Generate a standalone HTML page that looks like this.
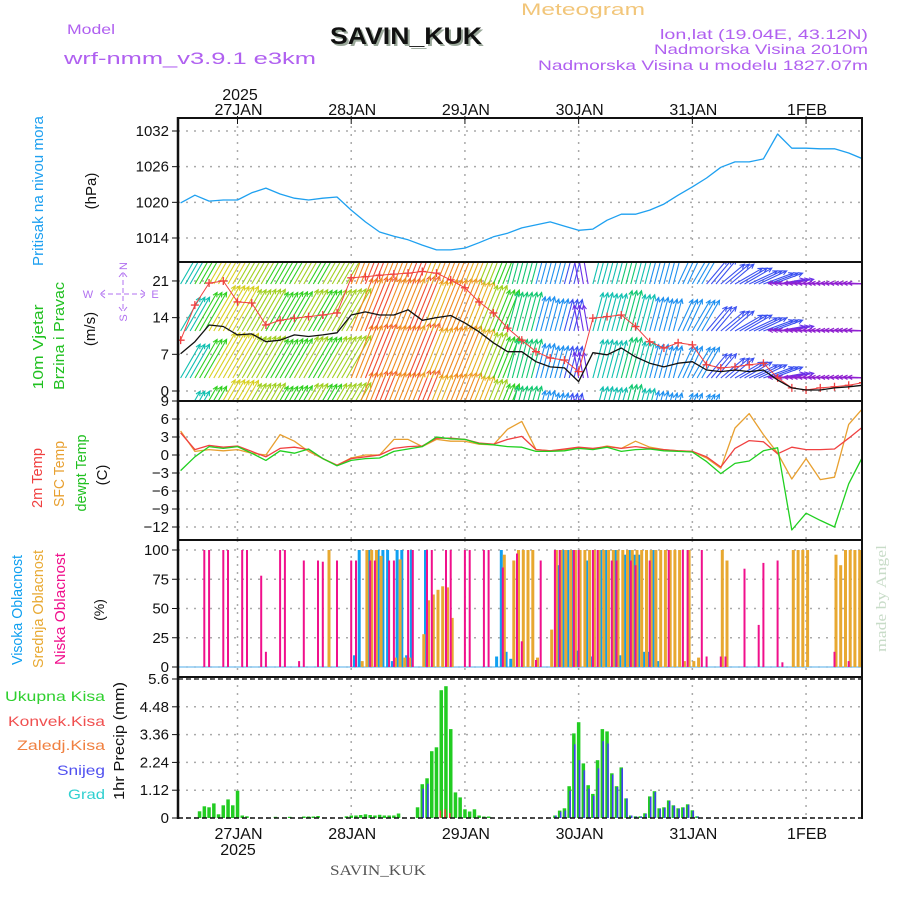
<!DOCTYPE html>
<html><head><meta charset="utf-8"><title>Meteogram SAVIN_KUK</title>
<style>
html,body{margin:0;padding:0;background:#fff;}
svg{display:block;font-family:"Liberation Sans",sans-serif;}
</style></head>
<body>
<svg id="chart" xmlns="http://www.w3.org/2000/svg" width="900" height="900" viewBox="0 0 900 900">
<defs>
<clipPath id="cpP"><rect x="179" y="119" width="682" height="142"/></clipPath>
<clipPath id="cpW"><rect x="179" y="263" width="682" height="137"/></clipPath>
<clipPath id="cpT"><rect x="179" y="402" width="682" height="137"/></clipPath>
<clipPath id="cpC"><rect x="179" y="541" width="682" height="135"/></clipPath>
<clipPath id="cpR"><rect x="179" y="678" width="682" height="140"/></clipPath>
</defs>
<!-- header -->
<text x="521" y="15" font-size="17" fill="#f2c67a" textLength="124" lengthAdjust="spacingAndGlyphs">Meteogram</text>
<text x="67" y="34" font-size="14" fill="#b060f0" textLength="48" lengthAdjust="spacingAndGlyphs">Model</text>
<text x="64" y="64" font-size="17" fill="#b060f0" textLength="252" lengthAdjust="spacingAndGlyphs">wrf-nmm_v3.9.1 e3km</text>
<text x="332" y="46" font-size="24" font-weight="bold" fill="#9aa89a" textLength="152" lengthAdjust="spacingAndGlyphs">SAVIN_KUK</text>
<text x="330" y="44" font-size="24" font-weight="bold" fill="#111" textLength="152" lengthAdjust="spacingAndGlyphs">SAVIN_KUK</text>
<text x="868" y="39" font-size="14" fill="#b060f0" text-anchor="end" textLength="208" lengthAdjust="spacingAndGlyphs">lon,lat (19.04E, 43.12N)</text>
<text x="868" y="54" font-size="14" fill="#b060f0" text-anchor="end" textLength="214" lengthAdjust="spacingAndGlyphs">Nadmorska Visina 2010m</text>
<text x="868" y="70" font-size="14" fill="#b060f0" text-anchor="end" textLength="330" lengthAdjust="spacingAndGlyphs">Nadmorska Visina u modelu 1827.07m</text>
<text x="240" y="100" font-size="16" fill="#111" text-anchor="middle">2025</text>
<!-- left labels -->
<text transform="translate(43,191) rotate(-90)" font-size="15" fill="#1ea0f0" text-anchor="middle" textLength="150" lengthAdjust="spacingAndGlyphs">Pritisak na nivou mora</text>
<text transform="translate(96,191) rotate(-90)" font-size="15" fill="#111" text-anchor="middle">(hPa)</text>
<text transform="translate(43,347) rotate(-90)" font-size="15" fill="#20c020" text-anchor="middle" textLength="85" lengthAdjust="spacingAndGlyphs">10m Vjetar</text>
<text transform="translate(64,336) rotate(-90)" font-size="15" fill="#20c020" text-anchor="middle" textLength="108" lengthAdjust="spacingAndGlyphs">Brzina i Pravac</text>
<text transform="translate(95,329) rotate(-90)" font-size="15" fill="#111" text-anchor="middle">(m/s)</text>
<g fill="#b070f0" stroke="none" font-size="11">
<text x="88" y="298" text-anchor="middle">W</text>
<text x="155" y="298" text-anchor="middle">E</text>
<text transform="translate(127,266) rotate(-90)" text-anchor="middle">N</text>
<text transform="translate(127,318) rotate(-90)" text-anchor="middle">S</text>
<path d="M100 294 L146 294 M123 272 L123 312 M105 290 L100 294 L105 298 M141 290 L146 294 L141 298 M119 277 L123 272 L127 277 M119 307 L123 312 L127 307" stroke="#b070f0" stroke-width="1" fill="none" stroke-dasharray="5,3"/>
</g>
<text transform="translate(42,478) rotate(-90)" font-size="15" fill="#f04040" text-anchor="middle" textLength="60" lengthAdjust="spacingAndGlyphs">2m Temp</text>
<text transform="translate(64,474) rotate(-90)" font-size="15" fill="#e8a030" text-anchor="middle" textLength="66" lengthAdjust="spacingAndGlyphs">SFC Temp</text>
<text transform="translate(86,473) rotate(-90)" font-size="15" fill="#20c020" text-anchor="middle" textLength="77" lengthAdjust="spacingAndGlyphs">dewpt Temp</text>
<text transform="translate(107,475) rotate(-90)" font-size="15" fill="#111" text-anchor="middle">(C)</text>
<text transform="translate(22,610) rotate(-90)" font-size="15" fill="#10a0f0" text-anchor="middle" textLength="110" lengthAdjust="spacingAndGlyphs">Visoka Oblacnost</text>
<text transform="translate(43,609) rotate(-90)" font-size="15" fill="#e8a830" text-anchor="middle" textLength="118" lengthAdjust="spacingAndGlyphs">Srednja Oblacnost</text>
<text transform="translate(65,609) rotate(-90)" font-size="15" fill="#f0108c" text-anchor="middle" textLength="112" lengthAdjust="spacingAndGlyphs">Niska Oblacnost</text>
<text transform="translate(104,610) rotate(-90)" font-size="14" fill="#111" text-anchor="middle">(%)</text>
<text x="105" y="701" font-size="14" fill="#30d030" text-anchor="end" textLength="100" lengthAdjust="spacingAndGlyphs">Ukupna  Kisa</text>
<text x="105" y="726" font-size="14" fill="#f05050" text-anchor="end" textLength="97" lengthAdjust="spacingAndGlyphs">Konvek.Kisa</text>
<text x="105" y="750" font-size="14" fill="#f08040" text-anchor="end" textLength="88" lengthAdjust="spacingAndGlyphs">Zaledj.Kisa</text>
<text x="105" y="775" font-size="14" fill="#5050f0" text-anchor="end" textLength="48" lengthAdjust="spacingAndGlyphs">Snijeg</text>
<text x="105" y="799" font-size="14" fill="#30d0d0" text-anchor="end" textLength="37" lengthAdjust="spacingAndGlyphs">Grad</text>
<text transform="translate(124,741) rotate(-90)" font-size="15" fill="#111" text-anchor="middle" textLength="118" lengthAdjust="spacingAndGlyphs">1hr Precip (mm)</text>
<!-- footer -->
<text x="238" y="855" font-size="16" fill="#111" text-anchor="middle">2025</text>
<text x="330" y="875" font-size="15" fill="#555" font-family="Liberation Serif, serif" textLength="96" lengthAdjust="spacingAndGlyphs">SAVIN_KUK</text>
<text transform="translate(886,652) rotate(-90)" font-size="15" fill="#c8dcc8" font-family="Liberation Serif, serif" textLength="107" lengthAdjust="spacingAndGlyphs">made by Angel</text>
<g id="plot"></g>
</svg>
<script>
// ---- data (hours relative to 27 JAN 00 UTC) ----
const hours3=[-12,-9,-6,-3,0,3,6,9,12,15,18,21,24,27,30,33,36,39,42,45,48,51,54,57,60,63,66,69,72,75,78,81,84,87,90,93,96,99,102,105,108,111,114,117,120,123,126,129,132];
const pressure=[1019.9,1021.2,1020.2,1020.4,1020.4,1021.6,1022.4,1021.4,1020.7,1020.4,1020.7,1020.9,1018.7,1016.7,1015,1014.3,1013.7,1012.8,1012,1012,1012.3,1013.2,1014.2,1014.8,1015.7,1016.2,1016.7,1016,1015.3,1015.5,1017,1018,1018,1018.7,1019.7,1021.2,1022.6,1024.1,1025.9,1026.8,1026.8,1027.3,1031.5,1029.1,1029.1,1029,1029,1028.3,1027.3];
const windSpeed=[7.1,9.4,12.6,12.3,10.7,10.9,9.4,9.7,10.7,10.4,10.7,11.1,14.5,15.1,14.5,14.5,15.5,13.5,14,14.4,13,11.3,9.2,7.5,7.5,5.6,4.6,4.4,1.8,7.3,6.9,8.2,6.5,5.3,4.6,5.3,5.6,4,3.7,4,3.7,4,2.1,0.6,0.2,0.2,0.6,0.8,1.1];
const windGust=[9.7,16.4,20.6,21,17,16.8,12.6,13.5,13.9,14.2,14.5,14.9,21.6,21.8,22.1,22.3,22.5,22.8,22.5,21.2,19.7,17,14.9,12,9.7,7.5,6.3,5.9,3.7,13.9,14.2,14.5,12.3,9.4,8.2,9.2,8.8,5,4.4,4.6,5,5.3,2.5,0.6,0.2,0.6,0.8,1.1,1.6];
const windDir=[30,30,30,30,30,30,30,30,30,30,30,30,22,22,22,22,22,22,22,22,22,22,22,15,15,15,15,15,350,15,15,15,15,15,15,25,30,40,50,60,65,70,80,272,272,272,272,272,272];
const temp2m=[3.7,0.9,1.6,1.3,1.5,0.6,-0.3,1.1,1.3,0.9,-0.6,-1.7,-0.6,-0.3,0,1.1,1.4,1.5,2.8,2.8,2.6,2,1.8,2.6,3.1,0.9,0.7,1,1.3,1.1,1.4,1.1,1.4,1.1,0.9,0.7,0.6,-0.3,-2,1.1,2.4,2.2,0.2,1.3,0.9,0.9,1,2.8,4.7];
const tempSfc=[4,0.6,0.9,0.7,0.9,0.3,0,3.4,2.3,0.6,-0.6,-1.7,-0.5,0,0,2.6,2.6,1.4,2.6,2.3,2.3,1.8,1.7,4.3,5.6,0.9,0.7,0.9,1.1,1,1.5,1.1,2.3,1.3,0.9,0.7,0.6,-0.5,-2.2,4.5,6.9,3.4,0.3,-4,-0.6,-4.1,-3.7,5.1,7.8];
const tempDew=[-2.6,-0.3,1.4,1.1,1.4,0.3,-0.9,0.7,0.3,1,-0.6,-1.8,-0.9,-0.6,-0.5,0.6,1,1.4,3,2.7,2.6,1.9,1.7,1.4,1.3,0.6,0.6,0.7,1.1,0.9,1.3,0.6,0.9,1,0.7,0.6,0.5,-1.1,-3.1,-1.4,-1,0.7,1.2,-12.5,-9.7,-10.9,-12,-4.8,-0.2];
const lowCloudHours=[-7,-6,-3,-2,1,2,5,6,9,10,13,14,17,18,21,24,25,28,29,32,33,36,37,40,41,44,45,48,49,52,53,56,59,60,63,64,67,68,71,72,75,76,79,80,83,84,87,91,94,95,98,99,102,103,107,110,111,114,115,126,129];
const lowCloudVals=[100,100,100,100,100,100,78,13,100,100,5,91,91,90,91,91,91,91,91,91,91,100,100,100,100,100,100,100,100,100,100,85,97,22,6,91,100,100,100,100,100,100,91,91,91,87,91,100,100,100,100,9,9,9,84,36,89,91,4,13,5];
const midCloudHours=[19,26,27,28,29,30,33,34,35,36,39,40,41,42,43,44,45,56,58,59,60,61,62,63,66,67,68,69,70,71,72,73,74,75,76,77,78,79,80,81,82,83,84,85,86,87,88,89,90,91,92,93,94,95,96,97,102,103,117,118,119,120,126,127,128,129,130,131];
const midCloudVals=[100,5,100,100,100,95,8,92,8,8,28,57,62,66,69,68,42,96,91,100,100,100,100,8,32,100,100,100,100,100,100,100,100,100,100,100,100,100,100,100,100,100,100,100,100,100,100,100,100,100,100,100,5,100,5,8,100,91,100,100,100,100,96,87,100,100,100,100];
const highCloudHours=[25,26,28,30,31,32,33,34,35,36,37,40,55,56,57,58,68,69,70,71,72,74,75,77,78,80,81,82,83,84,85,86,87,88,89];
const highCloudVals=[10,100,100,100,100,100,5,100,100,10,100,100,9,100,13,7,87,100,100,100,14,91,9,100,100,100,10,96,100,96,96,13,13,100,5];
const precipHours=[-8,-7,-6,-5,-4,-3,-2,-1,0,1,2,8,11,14,15,16,17,23,24,25,26,27,28,29,30,31,32,33,34,38,39,40,41,42,43,44,45,46,47,48,49,50,51,52,53,67,68,69,70,71,72,73,74,75,76,77,78,79,80,81,82,83,84,85,86,87,88,89,90,91,92,93,94,95,96,97];
const precipTotal=[0.27,0.47,0.43,0.59,0.15,0.51,0.75,0.51,1.1,0.1,0.07,0.05,0.05,0.06,0.06,0.06,0.08,0.07,0.1,0.1,0.12,0.15,0.12,0.1,0.13,0.1,0.1,0.1,0.18,0.43,1.36,1.6,2.69,2.85,5.15,5.31,3.58,1.03,0.83,0.35,0.26,0.35,0.1,0.06,0.06,0.1,0.3,0.39,1.28,3.41,3.86,2.2,1.32,0.97,2.33,3.58,3.49,1.8,1.28,2.04,0.79,0.1,0.07,0.07,0.19,0.87,1.08,0.39,0.43,0.71,0.51,0.39,0.43,0.55,0.31,0.07];
const precipSnow=[0,0,0,0,0,0,0,0,0,0,0,0,0,0,0,0,0,0,0,0,0,0,0,0,0,0,0,0,0,0,1.18,1.38,0,0,0,0,0,0,0,0,0,0,0,0,0,0.1,0.25,0.3,1.1,2.97,2.33,1.92,1.18,0.9,2,3.1,3,1.75,1.25,2,0.79,0.1,0.06,0.06,0.17,0.85,1.05,0.37,0.41,0.68,0.49,0.37,0.41,0.53,0.29,0.06];
const precipConv=[0,0,0,0,0,0,0,0,0,0,0,0,0,0,0,0,0,0,0,0,0,0,0,0,0,0,0,0,0,0,0,0,0,0,0.3,0.35,0.2,0,0,0,0,0,0,0,0,0,0,0,0,0,0,0,0,0,0,0,0,0,0,0,0,0,0,0,0,0,0,0,0,0,0,0,0,0,0,0];
const dayHours=[0,24,48,72,96,120];
const dayLabels=["27JAN","28JAN","29JAN","30JAN","31JAN","1FEB"];
const pTicks=[1032,1026,1020,1014];
const wTicks=[21,14,7,0];
const tTicks=[9,6,3,0,-3,-6,-9,-12];
const cTicks=[100,75,50,25,0];
const rTicks=[5.6,4.48,3.36,2.24,1.12,0];
const rTickLabels=["5.6","4.48","3.36","2.24","1.12","0"];

// ---- scales ----
const xs=h=>237.5+h*4.738;
const yP=p=>131+(1032-p)*5.944;
const yW=s=>391-s*5.24;
const yT=t=>455-t*6;
const yC=c=>667-c*1.17;
const yR=r=>818-r*24.82;
const L=178,R=862;
const NS="http://www.w3.org/2000/svg";
const plot=document.getElementById('plot');
function mk(tag,parent){const e=document.createElementNS(NS,tag);(parent||plot).appendChild(e);return e;}
function grp(clip){const g=mk('g');if(clip)g.setAttribute('clip-path','url(#'+clip+')');return g;}

// ---- grids ----
const panels=[[118,262,'cpP'],[262,401,'cpW'],[401,540,'cpT'],[540,677,'cpC'],[677,818,'cpR']];
const gridG=grp();


panels.forEach(p=>{dayHours.forEach(d=>{const ln=mk('line',gridG);


ln.setAttribute('x1',xs(d));ln.setAttribute('x2',xs(d));ln.setAttribute('y1',p[0]);ln.setAttribute('y2',p[1]);
ln.setAttribute('stroke','#aaa');ln.setAttribute('stroke-width','1.5');ln.setAttribute('stroke-dasharray','2,6');});});
function hgrid(vals,fy,labels,name){vals.forEach((v,i)=>{const y=fy(v);
 const ln=mk('line',gridG);
 
 
 ln.setAttribute('x1',L);ln.setAttribute('x2',R);ln.setAttribute('y1',y);ln.setAttribute('y2',y);
 ln.setAttribute('stroke','#aaa');ln.setAttribute('stroke-width','1.5');ln.setAttribute('stroke-dasharray','2,6');
 const tk=mk('line');
 
 
 tk.setAttribute('x1',172);tk.setAttribute('x2',L);tk.setAttribute('y1',y);tk.setAttribute('y2',y);tk.setAttribute('stroke','#111');
 const t=mk('text');
 
 
 t.setAttribute('x',169);t.setAttribute('y',y+5);t.setAttribute('text-anchor','end');t.setAttribute('font-size','15');t.setAttribute('fill','#111');
 t.textContent=labels?labels[i]:String(v).replace('-','\u2212');});}
hgrid(pTicks,yP,null,'pressure');
hgrid(wTicks,yW,null,'wind');
hgrid(tTicks,yT,null,'temp');
hgrid(cTicks,yC,null,'cloud');
hgrid(rTicks,yR,rTickLabels,'precip');

// ---- pressure ----
function line(hs,vals,fy,color,w,parent,name){const pl=mk('polyline',parent);
 
 
 pl.setAttribute('points',hs.map((h,i)=>xs(h).toFixed(1)+','+fy(vals[i]).toFixed(1)).join(' '));
 pl.setAttribute('fill','none');pl.setAttribute('stroke',color);pl.setAttribute('stroke-width',w);pl.setAttribute('stroke-linejoin','round');return pl;}
const gP=grp('cpP');
line(hours3,pressure,yP,'#1ea0f0',1.3,gP,'pressure-line');

// ---- wind arrows ----
function windColor(s){if(s<1.5)return'#9020d0';if(s<3)return'#6a30e8';if(s<4.5)return'#3a50f0';if(s<6)return'#1e90f0';if(s<7.5)return'#10c0b0';if(s<9)return'#10c870';if(s<10.5)return'#30d020';if(s<12)return'#a0d020';if(s<13)return'#d8d020';if(s<14)return'#e8b020';if(s<15)return'#f08c20';return'#f05030';}
const gW=grp('cpW');
const rows=[237,284,331,378,425];
hours3.forEach((h0,i)=>{for(let k=0;k<3;k++){const h=h0+k;const s=windSpeed[i];const th=windDir[i]*Math.PI/180;
 const len=22+2.4*s;const col=windColor(s);const x=xs(h);
 rows.forEach(ry=>{const x2=x+len*Math.sin(th),y2=ry-len*Math.cos(th);
  const a1=th+Math.PI+0.45,a2=th+Math.PI-0.45,hl=5;
  const p=mk('path',gW);
  
  
  p.setAttribute('d','M'+x.toFixed(1)+' '+ry+' L'+x2.toFixed(1)+' '+y2.toFixed(1)+' M'+(x2+hl*Math.sin(a1)).toFixed(1)+' '+(y2-hl*Math.cos(a1)).toFixed(1)+' L'+x2.toFixed(1)+' '+y2.toFixed(1)+' L'+(x2+hl*Math.sin(a2)).toFixed(1)+' '+(y2-hl*Math.cos(a2)).toFixed(1));
  p.setAttribute('stroke',col);p.setAttribute('stroke-width','1.1');p.setAttribute('fill','none');});}});
line(hours3,windGust,yW,'#f04040',1,gW,'wind-gust-line');
hours3.forEach((h,i)=>{const x=xs(h),y=yW(windGust[i]);const m=mk('path',gW);
 
 
 m.setAttribute('d','M'+(x-4)+' '+y+' L'+(x+4)+' '+y+' M'+x+' '+(y-4)+' L'+x+' '+(y+4));
 m.setAttribute('stroke','#f04040');m.setAttribute('stroke-width','1.3');});
line(hours3,windSpeed,yW,'#111',1.3,gW,'wind-speed-line');

// ---- temperature ----
const gT=grp('cpT');
line(hours3,tempSfc,yT,'#e8a030',1.3,gT,'sfc-temp-line');
line(hours3,temp2m,yT,'#f04040',1.3,gT,'temp-2m-line');
line(hours3,tempDew,yT,'#20d020',1.3,gT,'dewpoint-line');

// ---- clouds ----
const gC=grp('cpC');
const cb=mk('line',gC);


cb.setAttribute('x1',L);cb.setAttribute('x2',R);cb.setAttribute('y1',yC(0));cb.setAttribute('y2',yC(0));cb.setAttribute('stroke','#8cc8f0');cb.setAttribute('stroke-width','1.5');
function bars(hs,vals,fy,col,w,off,parent,name){hs.forEach((h,i)=>{const x=xs(h)+off;const y=fy(vals[i]);const r=mk('rect',parent);
 
 
 r.setAttribute('x',(x-w/2).toFixed(1));r.setAttribute('y',y.toFixed(1));r.setAttribute('width',w);r.setAttribute('height',Math.max(0,fy(0)-y).toFixed(1));r.setAttribute('fill',col);});}
bars(highCloudHours,highCloudVals,yC,'#10a0f0',3,-1.5,gC,'high-cloud-bar');
bars(midCloudHours,midCloudVals,yC,'#e8a830',3,1.5,gC,'mid-cloud-bar');
bars(lowCloudHours,lowCloudVals,yC,'#f0108c',2,0,gC,'low-cloud-bar');

// ---- precip ----
const gR=grp('cpR');
bars(precipHours,precipTotal,yR,'#22cc22',3.5,0,gR,'total-precip-bar');
bars(precipHours,precipSnow,yR,'#4040f0',1.6,0.9,gR,'snow-bar');
bars(precipHours,precipConv,yR,'#f04040',1.6,-0.9,gR,'convective-precip-bar');

// ---- frames ----
function fl(x1,y1,x2,y2,w,dash,name){const ln=mk('line');
 
 
 ln.setAttribute('x1',x1);ln.setAttribute('y1',y1);ln.setAttribute('x2',x2);ln.setAttribute('y2',y2);ln.setAttribute('stroke','#111');ln.setAttribute('stroke-width',w);if(dash)ln.setAttribute('stroke-dasharray',dash);}
fl(L,118,R,118,2,null,'top-frame');
fl(L,262,R,262,2,null,'pressure-wind-separator');
fl(L,401,R,401,2,null,'wind-temp-separator');
fl(L,540,R,540,2,null,'temp-cloud-separator');
fl(L,677,R,677,2,null,'cloud-precip-separator');
fl(L,679,R,679,1.3,'5,3','precip-max-dashed-line');
fl(L,818,R,818,1.6,'5,3','precip-zero-dashed-line');
fl(L,117,L,819,2.5,null,'left-frame');
fl(R,117,R,819,2,null,'right-frame');

// ---- time axis labels ----
dayHours.forEach((d,i)=>{const x=xs(d);
 const t=mk('text');
 
 
 t.setAttribute('x',x+1);t.setAttribute('y',115);t.setAttribute('text-anchor','middle');t.setAttribute('font-size','16');t.setAttribute('fill','#111');t.textContent=dayLabels[i];
 const b=mk('text');
 
 
 b.setAttribute('x',x+1);b.setAttribute('y',839);b.setAttribute('text-anchor','middle');b.setAttribute('font-size','16');b.setAttribute('fill','#111');b.textContent=dayLabels[i];
 const tk=mk('line');
 
 
 tk.setAttribute('x1',x);tk.setAttribute('x2',x);tk.setAttribute('y1',116);tk.setAttribute('y2',124);tk.setAttribute('stroke','#111');});
</script>
</body></html>
